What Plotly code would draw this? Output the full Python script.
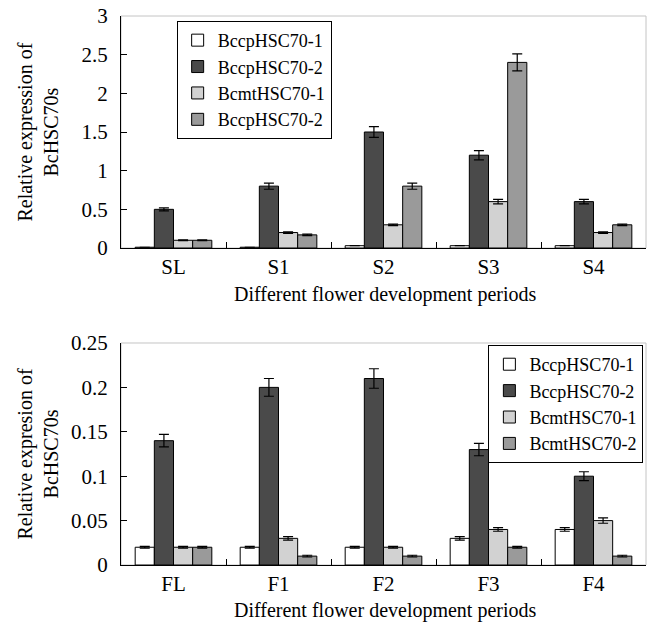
import plotly.graph_objects as go
from plotly.subplots import make_subplots

top_cats = ["SL", "S1", "S2", "S3", "S4"]
bot_cats = ["FL", "F1", "F2", "F3", "F4"]

top_names = ["BccpHSC70-1", "BccpHSC70-2", "BcmtHSC70-1", "BccpHSC70-2"]
bot_names = ["BccpHSC70-1", "BccpHSC70-2", "BcmtHSC70-1", "BcmtHSC70-2"]

top_vals = [
    [0.01, 0.01, 0.03, 0.03, 0.03],
    [0.5, 0.8, 1.5, 1.2, 0.6],
    [0.1, 0.2, 0.3, 0.6, 0.2],
    [0.1, 0.17, 0.8, 2.4, 0.3],
]
top_errs = [
    [0.0, 0.0, 0.0, 0.0, 0.0],
    [0.02, 0.04, 0.07, 0.06, 0.03],
    [0.005, 0.01, 0.01, 0.03, 0.01],
    [0.005, 0.01, 0.04, 0.11, 0.01],
]
bot_vals = [
    [0.02, 0.02, 0.02, 0.03, 0.04],
    [0.14, 0.2, 0.21, 0.13, 0.1],
    [0.02, 0.03, 0.02, 0.04, 0.05],
    [0.02, 0.01, 0.01, 0.02, 0.01],
]
bot_errs = [
    [0.001, 0.001, 0.001, 0.002, 0.002],
    [0.007, 0.01, 0.011, 0.007, 0.005],
    [0.001, 0.002, 0.001, 0.002, 0.003],
    [0.001, 0.001, 0.001, 0.001, 0.001],
]

x_title = "Different flower development periods"
top_y_title = "Relative expression of<br>BcHSC70s"
bot_y_title = "Relative expresion of<br>BcHSC70s"

colors = ["#ffffff", "#4a4a4a", "#d2d2d2", "#9a9a9a"]
FONT = "Liberation Serif"
BLACK = "#000000"

fig = make_subplots(rows=2, cols=1)

for i in range(4):
    fig.add_trace(go.Bar(
        x=top_cats, y=top_vals[i], name=top_names[i],
        marker=dict(color=colors[i], line=dict(color=BLACK, width=1)),
        error_y=dict(type="data", array=top_errs[i], visible=True,
                     color=BLACK, thickness=1.2, width=5),
        legend="legend",
    ), row=1, col=1)
for i in range(4):
    fig.add_trace(go.Bar(
        x=bot_cats, y=bot_vals[i], name=bot_names[i],
        marker=dict(color=colors[i], line=dict(color=BLACK, width=1)),
        error_y=dict(type="data", array=bot_errs[i], visible=True,
                     color=BLACK, thickness=1.2, width=5),
        legend="legend2",
    ), row=2, col=1)

axis_common = dict(showline=True, linecolor=BLACK, linewidth=1.3,
                   ticks="inside", ticklen=6, tickcolor=BLACK, tickwidth=1.2,
                   showgrid=False, zeroline=False, automargin=False,
                   tickfont=dict(family=FONT, size=21, color=BLACK))

fig.update_xaxes(**axis_common, tickson="boundaries", ticklabelstandoff=0,
                 domain=[0, 1])
fig.update_yaxes(**axis_common, ticklabelstandoff=8)
fig.update_yaxes(range=[0, 3], dtick=0.5, domain=[0.5774, 1], row=1, col=1)
fig.update_yaxes(range=[0, 0.25], dtick=0.05, domain=[0, 0.4044], row=2, col=1)

for xr, yr in [("x domain", "y domain"), ("x2 domain", "y2 domain")]:
    fig.add_shape(type="rect", xref=xr, yref=yr, x0=0, x1=1, y0=0, y1=1,
                  line=dict(color="#c4c4c4", width=1), layer="below")

title_font = dict(family=FONT, size=20, color=BLACK)
fig.add_annotation(text=x_title, xref="paper", yref="paper", x=0.503, y=0.4936,
                   xanchor="center", yanchor="middle", showarrow=False, font=title_font)
fig.add_annotation(text=x_title, xref="paper", yref="paper", x=0.503, y=-0.082,
                   xanchor="center", yanchor="middle", showarrow=False, font=title_font)
fig.add_annotation(text=top_y_title, xref="paper", yref="paper", x=-0.159, y=0.7887,
                   xanchor="center", yanchor="middle", showarrow=False,
                   textangle=-90, font=title_font)
fig.add_annotation(text=bot_y_title, xref="paper", yref="paper", x=-0.159, y=0.2022,
                   xanchor="center", yanchor="middle", showarrow=False,
                   textangle=-90, font=title_font)

leg_common = dict(bgcolor="#ffffff", bordercolor=BLACK, borderwidth=1,
                  font=dict(family=FONT, size=18, color=BLACK),
                  itemwidth=30)
fig.update_layout(
    barmode="group", bargap=0.27, bargroupgap=0,
    width=650, height=624,
    margin=dict(l=121, r=4, t=16, b=59, autoexpand=False),
    plot_bgcolor="#ffffff", paper_bgcolor="#ffffff",
    font=dict(family=FONT, color=BLACK),
    legend=dict(x=0.106, y=0.991, xanchor="left", yanchor="top", **leg_common),
    legend2=dict(x=0.995, y=0.4007, xanchor="right", yanchor="top", **leg_common),
)

fig.write_html("out.html", config={"displayModeBar": False},
               post_script="document.body.style.margin='0';document.body.style.overflow='hidden';")
